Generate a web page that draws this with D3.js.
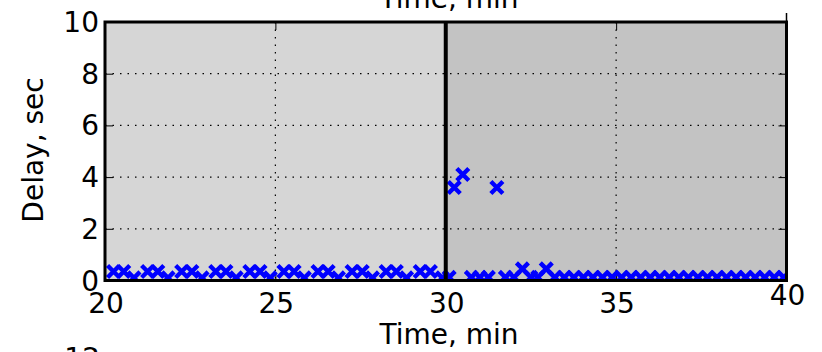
<!DOCTYPE html>
<html>
<head>
<meta charset="utf-8">
<script src="https://cdn.jsdelivr.net/npm/d3@7"></script>
<style>
  body { margin: 0; background: #fff; }
  svg { display: block; font-family: "DejaVu Sans", sans-serif; }
</style>
</head>
<body>
<svg id="chart" width="822" height="352"></svg>
<script>
// delay samples
const timesA = [20.25, 20.55, 20.85, 21.25, 21.55, 21.85, 22.25, 22.55, 22.85, 23.25, 23.55, 23.85,
  24.25, 24.55, 24.85, 25.25, 25.55, 25.85, 26.25, 26.55, 26.85, 27.25, 27.55, 27.85,
  28.25, 28.55, 28.85, 29.25, 29.55, 29.9];
const delaysA = [0.35, 0.35, 0.1, 0.35, 0.35, 0.1, 0.35, 0.35, 0.1, 0.35, 0.35, 0.1,
  0.35, 0.35, 0.1, 0.35, 0.35, 0.1, 0.35, 0.35, 0.1, 0.35, 0.35, 0.1,
  0.35, 0.35, 0.1, 0.35, 0.35, 0.1];

const timesB = [30.1, 30.25, 30.5, 30.75, 31.0, 31.25, 31.5, 31.75, 32.0, 32.25, 32.5, 32.7, 32.95,
  33.2, 33.48, 33.76, 34.04, 34.32, 34.6, 34.88, 35.16, 35.44, 35.72, 36.0, 36.28, 36.56,
  36.84, 37.12, 37.4, 37.68, 37.96, 38.24, 38.52, 38.8, 39.08, 39.36, 39.64, 39.92];
const delaysB = [0.12, 3.6, 4.1, 0.12, 0.12, 0.12, 3.6, 0.12, 0.12, 0.45, 0.12, 0.12, 0.45,
  0.12, 0.12, 0.12, 0.12, 0.12, 0.12, 0.12, 0.12, 0.12, 0.12, 0.12, 0.12, 0.12,
  0.12, 0.12, 0.12, 0.12, 0.12, 0.12, 0.12, 0.12, 0.12, 0.12, 0.12, 0.12];

const xTicks = [20, 25, 30, 35, 40];
const yTicks = [0, 2, 4, 6, 8, 10];
const periods = [[20, 30, "#d6d6d6"], [30, 40, "#c3c3c3"]];
const switchTime = 30;

const svg = d3.select("#chart");
const x0 = 105, x1 = 786.5, yTop = 22, yBot = 280.5;

const x = d3.scaleLinear().domain([20, 40]).range([x0, x1]);
const y = d3.scaleLinear().domain([0, 10]).range([yBot, yTop]);

svg.append("defs").append("clipPath").attr("id", "plotclip")
  .append("rect").attr("x", x0).attr("y", yTop).attr("width", x1 - x0).attr("height", yBot - yTop);

//background bands
svg.append("g").selectAll("rect")
  .data(periods)
  .join("rect")
  .attr("x", d => x(d[0]))
  .attr("y", yTop)
  .attr("width", d => x(d[1]) - x(d[0]))
  .attr("height", yBot - yTop)
  .attr("fill", d => d[2]);

//grid
const grid = svg.append("g").attr("stroke", "#000").attr("stroke-width", 1.2)
  .attr("stroke-dasharray", "1.5,6");
grid.selectAll("line.gx")
  .data(xTicks.slice(1, -1))
  .join("line")
  .attr("x1", d => x(d)).attr("x2", d => x(d))
  .attr("y1", yTop).attr("y2", yBot);
grid.selectAll("line.gy")
  .data(yTicks.slice(1, -1))
  .join("line")
  .attr("class", "gy")
  .attr("x1", x0).attr("x2", x1)
  .attr("y1", d => y(d)).attr("y2", d => y(d));

//axes (ticks inside)
const fmt = d3.format("d");
const yAxisL = svg.append("g").attr("transform", `translate(${x0},0)`)
  .call(d3.axisRight(y).tickValues(yTicks).tickSize(8).tickFormat(""));
const yAxisR = svg.append("g").attr("transform", `translate(${x1},0)`)
  .call(d3.axisLeft(y).tickValues(yTicks).tickSize(8).tickFormat(""));
const xAxisB = svg.append("g").attr("transform", `translate(0,${yBot})`)
  .call(d3.axisTop(x).tickValues(xTicks).tickSize(8).tickFormat(""));
const xAxisT = svg.append("g").attr("transform", `translate(0,${yTop})`)
  .call(d3.axisBottom(x).tickValues(xTicks).tickSize(8).tickFormat(""));
[yAxisL, yAxisR, xAxisB, xAxisT].forEach(g => {
  g.select(".domain").remove();
  g.selectAll(".tick line").attr("stroke", "#000").attr("stroke-width", 1);
});
// little outer tick on top at 40
svg.append("line").attr("x1", x(40)).attr("x2", x(40)).attr("y1", yTop).attr("y2", yTop - 9)
  .attr("stroke", "#000").attr("stroke-width", 1.5);

//tick labels
svg.append("g").selectAll("text")
  .data(yTicks)
  .join("text")
  .attr("x", 99)
  .attr("y", d => y(d))
  .attr("dy", "0.36em")
  .attr("text-anchor", "end")
  .attr("font-size", 28)
  .text(fmt);
svg.append("g").selectAll("text")
  .data(xTicks)
  .join("text")
  .attr("x", d => x(d) + 1)
  .attr("y", d => d === 40 ? 305 : 313)
  .attr("text-anchor", "middle")
  .attr("font-size", 28)
  .text(fmt);

//labels
svg.append("text").attr("x", 449).attr("y", 344).attr("text-anchor", "middle")
  .attr("font-size", 28).text("Time, min");
svg.append("text").attr("x", 449).attr("y", 8).attr("text-anchor", "middle")
  .attr("font-size", 28).text("Time, min");
svg.append("text").attr("transform", "translate(43,150) rotate(-90)").attr("text-anchor", "middle")
  .attr("font-size", 28).text("Delay, sec");
// next panel's top tick label peeking in at the bottom
svg.append("text").attr("x", 100).attr("y", 368).attr("text-anchor", "end")
  .attr("font-size", 28).text("12");

//markers
const points = timesA.map((t, i) => [t, delaysA[i]])
  .concat(timesB.map((t, i) => [t, delaysB[i]]));
const s = 6;
svg.append("g").attr("clip-path", "url(#plotclip)")
  .selectAll("path")
  .data(points)
  .join("path")
  .attr("transform", d => `translate(${x(d[0])},${y(d[1])})`)
  .attr("d", `M${-s},${-s}L${s},${s}M${-s},${s}L${s},${-s}`)
  .attr("stroke", "#0000ff")
  .attr("stroke-width", 4.4)
  .attr("fill", "none");

//switch line and frame
svg.append("line").attr("x1", x(switchTime)).attr("x2", x(switchTime))
  .attr("y1", yTop).attr("y2", yBot).attr("stroke", "#000").attr("stroke-width", 4);
svg.append("rect").attr("x", x0).attr("y", yTop).attr("width", x1 - x0).attr("height", yBot - yTop)
  .attr("fill", "none").attr("stroke", "#000").attr("stroke-width", 3);
</script>
</body>
</html>
